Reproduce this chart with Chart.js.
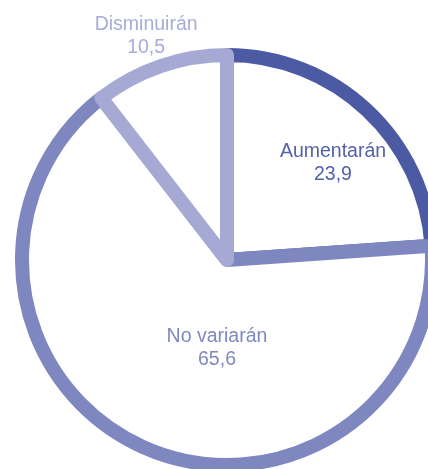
<!DOCTYPE html>
<html><head><meta charset="utf-8">
<script src="https://cdn.jsdelivr.net/npm/chart.js@4/dist/chart.umd.min.js"></script>
<style>html,body{margin:0;padding:0;background:#fff;overflow:hidden}#wrap{position:relative;width:428px;height:469px}</style>
</head><body><div id="wrap"><canvas id="c" width="428" height="469"></canvas></div>
<script>
const categories = ['Aumentarán', 'No variarán', 'Disminuirán'];
const values = [23.9, 65.6, 10.5];
const valueLabels = ['23,9', '65,6', '10,5'];

const sliceColors = ['#4b5aa2', '#7e87bf', '#a5a9d4'];
const textColors = ['#5461ab', '#7f88c0', '#a9acd8'];
// label placement: polar angle (deg, canvas convention) and distance as fraction of radius
const labelPlacement = [
  {angle: -40.8, r: 0.683},
  {angle: 96.1, r: 0.459},
  {angle: -110.3, r: 1.137}
];

const labelPlugin = {
  id: 'sliceLabels',
  afterDatasetsDraw(chart) {
    const ctx = chart.ctx;
    const meta = chart.getDatasetMeta(0);
    ctx.save();
    ctx.font = '19.5px "Liberation Sans", Arial, sans-serif';
    ctx.textAlign = 'center';
    ctx.textBaseline = 'alphabetic';
    meta.data.forEach((arc, i) => {
      const p = labelPlacement[i];
      const a = p.angle * Math.PI / 180;
      const cx = arc.x + Math.cos(a) * arc.outerRadius * p.r;
      const cy = arc.y + Math.sin(a) * arc.outerRadius * p.r;
      ctx.fillStyle = textColors[i];
      ctx.fillText(categories[i], cx, cy - 11.5);
      ctx.fillText(valueLabels[i], cx, cy + 11.5);
    });
    ctx.restore();
  }
};

new Chart(document.getElementById('c'), {
  type: 'pie',
  data: {
    labels: categories,
    datasets: [{
      data: values,
      backgroundColor: '#ffffff',
      borderColor: sliceColors,
      borderWidth: 14,
      borderJoinStyle: 'round',
      borderAlign: 'center',
      clip: false
    }]
  },
  options: {
    responsive: false,
    animation: false,
    radius: 205,
    layout: {padding: {left: 26, right: 0, top: 51, bottom: 0}},
    plugins: {legend: {display: false}, tooltip: {enabled: false}}
  },
  plugins: [labelPlugin]
});
</script>
</body></html>
